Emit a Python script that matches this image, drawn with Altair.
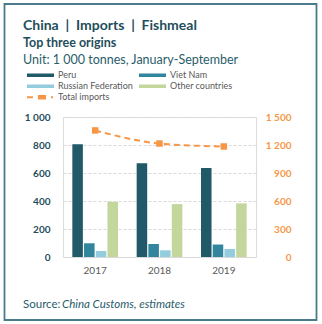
import altair as alt
import pandas as pd

years = ["2017", "2018", "2019"]
series_names = ["Peru", "Viet Nam", "Russian Federation", "Other countries"]
peru = [806, 670, 636]
viet_nam = [98, 93, 89]
russia = [43, 48, 57]
other = [395, 378, 383]
total_imports = [1356, 1216, 1184]
legend_names = series_names + ["Total imports"]
colors = ["#215968", "#31859c", "#93cddd", "#c3d69b", "#f79646"]
left_ticks = [0, 200, 400, 600, 800, 1000]
right_ticks = [0, 300, 600, 900, 1200, 1500]
title_lines = ["China \u00a0|\u00a0 Imports \u00a0|\u00a0 Fishmeal", "Top three origins"]
subtitle_line = "Unit: 1 000 tonnes, January-September"
source_label = "Source:"
source_text = "China Customs, estimates"

rows = []
for name, vals in zip(series_names, [peru, viet_nam, russia, other]):
    for yr, v in zip(years, vals):
        rows.append({"year": yr, "series": name, "value": v})
bars_df = pd.DataFrame(rows)
total_df = pd.DataFrame({"year": years, "total": total_imports})
legend_df = pd.DataFrame({"series": legend_names})

FONT = "Lato"
TEAL = "#1f4e5c"
ORANGE = "#f79646"
num_fmt = "replace(format(datum.value, ','), ',', ' ')"

bar_path = "M-1,-0.13H1V0.13H-1Z"
total_path = ("M-1,-0.07H-0.56V0.07H-1Z M-0.19,-0.17H0.41V0.17H-0.19Z "
              "M0.78,-0.07H0.93V0.07H0.78Z")

x_enc = alt.X("year:N", title=None,
              scale=alt.Scale(paddingInner=0.29, paddingOuter=0.145),
              axis=alt.Axis(labelAngle=0, domain=True, domainColor="#d9d9d9",
                            ticks=False, labelColor="#595959", labelFontSize=10,
                            labelFont=FONT, labelPadding=8, grid=False))

color_scale = alt.Scale(domain=legend_names, range=colors)
shape_scale = alt.Scale(domain=legend_names,
                        range=[bar_path, bar_path, bar_path, bar_path, total_path])

y_left = alt.Y("value:Q", title=None,
               scale=alt.Scale(domain=[0, 1000], nice=False),
               axis=alt.Axis(values=left_ticks, labelExpr=num_fmt, domain=False,
                             ticks=False, labelPadding=13, grid=True,
                             gridDash=[3, 2], gridColor="#d9d9d9", labelOverlap=False,
                             labelColor=TEAL, labelFontSize=10, labelFont=FONT,
                             labelFontWeight="bold"))

leg = alt.Legend(title=None, orient="none", legendX=-36, legendY=-46.7,
                 direction="horizontal",
                 columns=2, columnPadding=6, rowPadding=1, clipHeight=10,
                 symbolSize=729, symbolStrokeWidth=0, symbolOpacity=1, labelOffset=4,
                 labelFont=FONT, labelFontSize=9, labelColor="#595959",
                 padding=0)

legend_layer = alt.Chart(legend_df).mark_point(
    filled=True, opacity=1, size=0).encode(
    color=alt.Color("series:N", scale=color_scale, legend=leg),
    shape=alt.Shape("series:N", scale=shape_scale, legend=leg),
)

bars = alt.Chart(bars_df).mark_bar().encode(
    x=x_enc,
    xOffset=alt.XOffset("series:N", scale=alt.Scale(domain=series_names, paddingInner=0.1)),
    y=y_left,
    color=alt.Color("series:N", scale=color_scale, legend=None),
)

y_right = alt.Y("total:Q", title=None,
                scale=alt.Scale(domain=[0, 1500], nice=False),
                axis=alt.Axis(orient="right", values=right_ticks, labelExpr=num_fmt,
                              domain=False, ticks=False, grid=False, labelPadding=35,
                              labelAlign="right", labelOverlap=False,
                              labelColor=ORANGE, labelFontSize=10, labelFont=FONT,
                              labelFontWeight="bold"))

line = alt.Chart(total_df).mark_line(
    color=ORANGE, strokeDash=[6, 4], strokeWidth=2, interpolate="monotone"
).encode(x=alt.X("year:N"), y=y_right)

pts = alt.Chart(total_df).mark_point(
    shape="square", filled=True, size=42, color=ORANGE, opacity=1
).encode(x=alt.X("year:N"), y=y_right)


def text_layer(txt, x, y, size, weight="normal", style="normal", color=TEAL):
    return alt.Chart(alt.Data(values=[{"t": txt}])).mark_text(
        align="left", baseline="alphabetic", font=FONT, fontSize=size,
        fontWeight=weight, fontStyle=style, color=color
    ).encode(text="t:N", x=alt.value(x), y=alt.value(y))


t1 = text_layer(title_lines[0], -40, -87.5, 14, weight="bold")
t2 = text_layer(title_lines[1], -40, -70.5, 12.5, weight="bold")
t3 = text_layer(subtitle_line, -40, -53, 12.5, color="#2a5d6b")
src1 = text_layer(source_label, -40, 190.5, 11.5, color="#2a5d6b")
src2 = text_layer(source_text, -1, 190.5, 11.5, style="italic", color="#2a5d6b")

border = alt.Chart(alt.Data(values=[{"b": 1}])).mark_rect(
    fill=None, stroke="#4a7b8a", strokeWidth=1.8
).encode(x=alt.value(-58.5), x2=alt.value(253.5), y=alt.value(-113), y2=alt.value(203))

left = alt.layer(legend_layer, bars)
right = alt.layer(line, pts)

chart = alt.layer(left, right, t1, t2, t3, src1, src2, border).resolve_scale(
    y="independent"
).properties(
    width=193, height=140,
    autosize=alt.AutoSizeParams(type="none"),
    padding={"left": 63, "top": 117, "right": 66, "bottom": 67},
).configure_view(stroke=None).configure(background="white")

chart.save("out.html", embed_options={"renderer": "svg", "actions": False})
